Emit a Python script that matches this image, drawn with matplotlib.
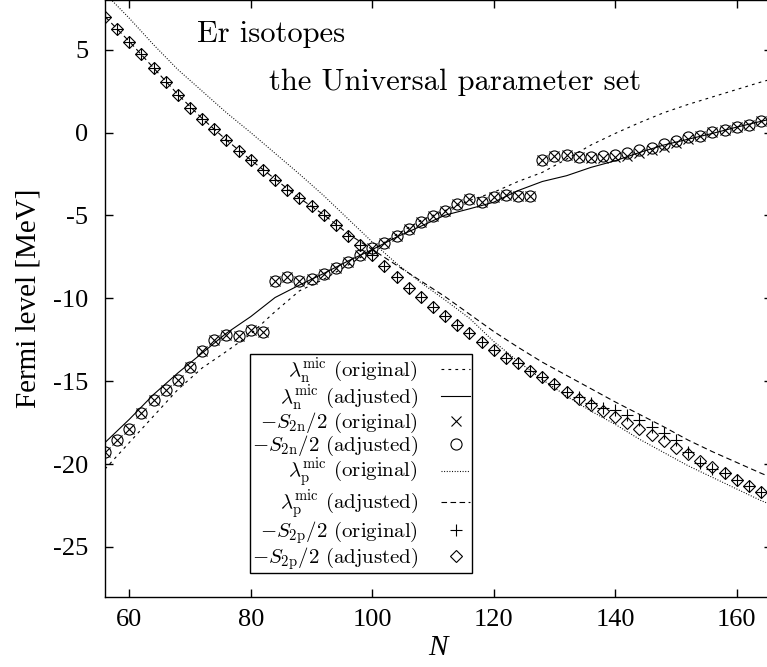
import matplotlib
matplotlib.use("Agg")
import matplotlib.pyplot as plt

plt.rcParams['font.family'] = ['Liberation Serif', 'DejaVu Serif']
plt.rcParams['mathtext.fontset'] = 'cm'
plt.rcParams['axes.unicode_minus'] = False
plt.rcParams['lines.scale_dashes'] = False

# neutron number of the points (every even N)
N_pts = list(range(56, 166, 2))

# -S2n/2 (adjusted), open circles
s2n_adj = [-19.3, -18.55, -17.86, -16.9, -16.16, -15.53, -14.9, -14.17, -13.17, -12.54,
           -12.24, -12.28, -11.88, -12.04, -8.97, -8.69, -8.93, -8.83, -8.51, -8.19,
           -7.8, -7.38, -6.98, -6.66, -6.22, -5.8, -5.41, -5.05, -4.71, -4.31,
           -4.01, -4.19, -3.91, -3.77, -3.81, -3.85, -1.64, -1.42, -1.34, -1.48,
           -1.48, -1.4, -1.34, -1.24, -1.04, -0.9, -0.69, -0.48, -0.29, -0.19,
           0.01, 0.17, 0.33, 0.47, 0.67]
# -S2n/2 (original), crosses
s2n_orig = [-19.3, -18.55, -17.86, -16.9, -16.16, -15.53, -14.9, -14.17, -13.17, -12.54,
            -12.24, -12.28, -11.88, -12.04, -8.97, -8.69, -8.93, -8.83, -8.51, -8.19,
            -7.8, -7.38, -6.98, -6.66, -6.22, -5.8, -5.41, -5.05, -4.71, -4.31,
            -4.01, -4.19, -3.91, -3.77, -3.81, -3.85, -1.64, -1.42, -1.34, -1.48,
            -1.55, -1.55, -1.5, -1.4, -1.22, -1.05, -0.85, -0.62, -0.4, -0.19,
            0.01, 0.17, 0.33, 0.47, 0.67]
# -S2p/2 (adjusted), diamonds
s2p_adj = [6.96, 6.23, 5.49, 4.75, 3.92, 3.08, 2.28, 1.51, 0.85, 0.21,
           -0.47, -1.08, -1.68, -2.24, -2.84, -3.45, -3.95, -4.45, -4.99, -5.6,
           -6.22, -6.8, -7.36, -8.07, -8.73, -9.37, -9.91, -10.5, -11.05, -11.6,
           -12.12, -12.64, -13.13, -13.59, -13.93, -14.39, -14.75, -15.15, -15.63, -16.1,
           -16.46, -16.8, -17.14, -17.5, -17.86, -18.27, -18.61, -19.05, -19.41, -19.81,
           -20.15, -20.51, -20.96, -21.32, -21.68]
# -S2p/2 (original), pluses
s2p_orig = [6.96, 6.23, 5.49, 4.75, 3.92, 3.08, 2.28, 1.51, 0.85, 0.21,
            -0.47, -1.08, -1.68, -2.24, -2.84, -3.45, -3.95, -4.45, -4.99, -5.6,
            -6.22, -6.8, -7.36, -8.07, -8.73, -9.37, -9.91, -10.5, -11.05, -11.6,
            -12.12, -12.64, -13.13, -13.59, -13.93, -14.39, -14.75, -15.15, -15.63, -15.95,
            -16.3, -16.6, -16.75, -17.06, -17.35, -17.75, -18.1, -18.55, -19.3, -19.95,
            -20.3, -20.51, -20.96, -21.32, -21.68]

# Fermi levels lambda^mic
N_line = [56, 60, 64, 68, 72, 76, 80, 84, 88, 92, 96, 100, 104, 108, 112,
          116, 120, 124, 128, 132, 136, 140, 144, 148, 152, 156, 160, 164, 166]
lam_n_orig = [-20.3, -18.7, -17.1, -15.5, -14.2, -13.2, -12.15, -10.8, -9.55, -8.85, -8.0, -7.1,
              -6.15, -5.3, -4.7, -4.1, -3.6, -2.95, -2.4, -1.6, -0.75, -0.05, 0.6, 1.2,
              1.7, 2.15, 2.6, 3.05, 3.25]
lam_n_adj = [-18.7, -17.3, -15.8, -14.5, -13.3, -12.1, -11.1, -9.95, -9.2, -8.5, -7.75, -7.06,
             -6.3, -5.65, -4.98, -4.6, -4.2, -3.5, -2.95, -2.6, -2.1, -1.7, -1.2, -0.75,
             -0.4, -0.05, 0.33, 0.68, 0.85]
lam_p_orig = [8.4, 6.9, 5.3, 3.8, 2.5, 1.2, 0.0, -1.25, -2.5, -3.8, -5.2, -6.6,
              -7.9, -9.05, -10.1, -11.2, -12.6, -13.8, -14.9, -15.9, -16.8, -17.6, -18.5, -19.3,
              -20.1, -20.8, -21.5, -22.2, -22.5]
lam_p_adj = [7.0, 5.5, 3.9, 2.3, 0.85, -0.45, -1.65, -2.8, -3.95, -4.95, -6.1, -7.05,
             -8.0, -8.95, -9.9, -10.95, -12.0, -12.95, -13.85, -14.65, -15.45, -16.25, -17.0, -17.75,
             -18.55, -19.25, -19.9, -20.55, -20.85]

fig = plt.figure(figsize=(7.67, 6.67), dpi=100)
ax = fig.add_axes([0.1369, 0.1054, 0.8691, 0.8946])

lw = 0.8
ax.plot(N_line, lam_n_orig, color='black', lw=lw, dashes=(2, 3),
        label=r'$\lambda_{\rm n}^{\rm mic}$ (original)')
ax.plot(N_line, lam_n_adj, color='black', lw=lw, ls='-',
        label=r'$\lambda_{\rm n}^{\rm mic}$ (adjusted)')
ax.plot(N_pts, s2n_orig, ls='none', marker='x', ms=7, mew=0.8, color='black',
        label=r'$-S_{2{\rm n}}/2$ (original)')
ax.plot(N_pts, s2n_adj, ls='none', marker='o', ms=8, mew=0.8, mfc='none', mec='black',
        label=r'$-S_{2{\rm n}}/2$ (adjusted)')
ax.plot(N_line, lam_p_orig, color='black', lw=lw, dashes=(0.7, 1.2),
        label=r'$\lambda_{\rm p}^{\rm mic}$ (original)')
ax.plot(N_line, lam_p_adj, color='black', lw=lw, dashes=(4, 2.5),
        label=r'$\lambda_{\rm p}^{\rm mic}$ (adjusted)')
ax.plot(N_pts, s2p_orig, ls='none', marker='+', ms=8, mew=0.8, color='black',
        label=r'$-S_{2{\rm p}}/2$ (original)')
ax.plot(N_pts, s2p_adj, ls='none', marker='D', ms=6, mew=0.8, mfc='none', mec='black',
        label=r'$-S_{2{\rm p}}/2$ (adjusted)')

ax.set_xlim(56, 165.75)
ax.set_ylim(-28, 8)
ax.set_xticks([60, 80, 100, 120, 140, 160])
ax.set_yticks([-25, -20, -15, -10, -5, 0, 5])
ax.tick_params(direction='in', length=6, width=1, top=True, right=True, labelsize=19)
ax.tick_params(axis='x', pad=9)
ax.tick_params(axis='y', pad=12)
for sp in ax.spines.values():
    sp.set_linewidth(1.0)

ax.set_xlabel('N', fontstyle='italic', fontsize=21, labelpad=3)
ax.set_ylabel('Fermi level [MeV]', fontsize=21)
ax.yaxis.set_label_coords(-0.095, 0.5)

ax.text(0.1385, 0.930, 'Er isotopes', transform=ax.transAxes, fontsize=22,
        family='cmr10', va='baseline')
ax.text(0.2458, 0.849, 'the Universal parameter set', transform=ax.transAxes,
        fontsize=22, family='cmr10', va='baseline')

leg = ax.legend(loc='lower left', bbox_to_anchor=(0.2175, 0.039), markerfirst=False,
                prop={'family': 'cmr10', 'size': 15}, handlelength=1.4,
                handletextpad=1.1, labelspacing=-0.06, borderpad=0.08,
                borderaxespad=0, fancybox=False, framealpha=1, edgecolor='black')
leg.get_frame().set_linewidth(1.0)

fig.savefig('out.png', dpi=100)
